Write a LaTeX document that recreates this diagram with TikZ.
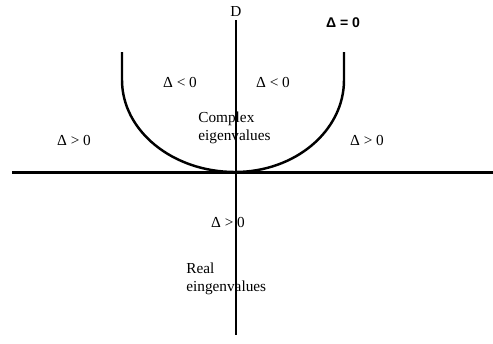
\documentclass[tikz,border=0pt]{standalone}
\usepackage{fontspec}
\setmainfont{Liberation Serif}
\newfontfamily\lblsans{Liberation Sans}
\usetikzlibrary{positioning}

\begin{document}
\begin{tikzpicture}[
  x=0.02cm, y=-0.02cm,
  axis/.style={line width=1.7pt},
  curve/.style={line width=1.4pt},
  lbl/.style={font=\fontsize{8.7}{10}\selectfont, inner sep=0pt},
  txt/.style={lbl, align=left, anchor=west}
]
\useasboundingbox (0,0) rectangle (493,343);

% Axes
\coordinate (tl) at (12,172);
\coordinate (tr) at (493,172);
\coordinate (db) at (236,335);
\node[lbl] (dlbl) at (236,12) {D};
\draw[axis] (dlbl.south |- 0,20) -- (db);
\draw[axis] (tl) -- (tr);

% Curve Delta = 0
\coordinate (cl) at (122,52);
\coordinate (cr) at (344,52);
\draw[curve] (cl) -- (122,80) arc (180:90:113 and 92)
  arc (90:0:109 and 92) -- (cr);
\node[font=\lblsans\bfseries\fontsize{8}{10}\selectfont, inner sep=0pt] (zero) at (343,23) {Δ = 0};

% Regions
\node[lbl] (negl) at (180,82) {Δ < 0};
\node[lbl] (negr) at (273,82) {Δ < 0};
\node[txt] (cplx) at (198,128) {Complex\\eigenvalues};
\node[lbl] (posl) at (74,140) {Δ > 0};
\node[lbl] (posr) at (367,140) {Δ > 0};
\node[lbl] (posb) at (228,222) {Δ > 0};
\node[txt] (real) at (186,279) {Real\\eingenvalues};

\end{tikzpicture}
\end{document}
